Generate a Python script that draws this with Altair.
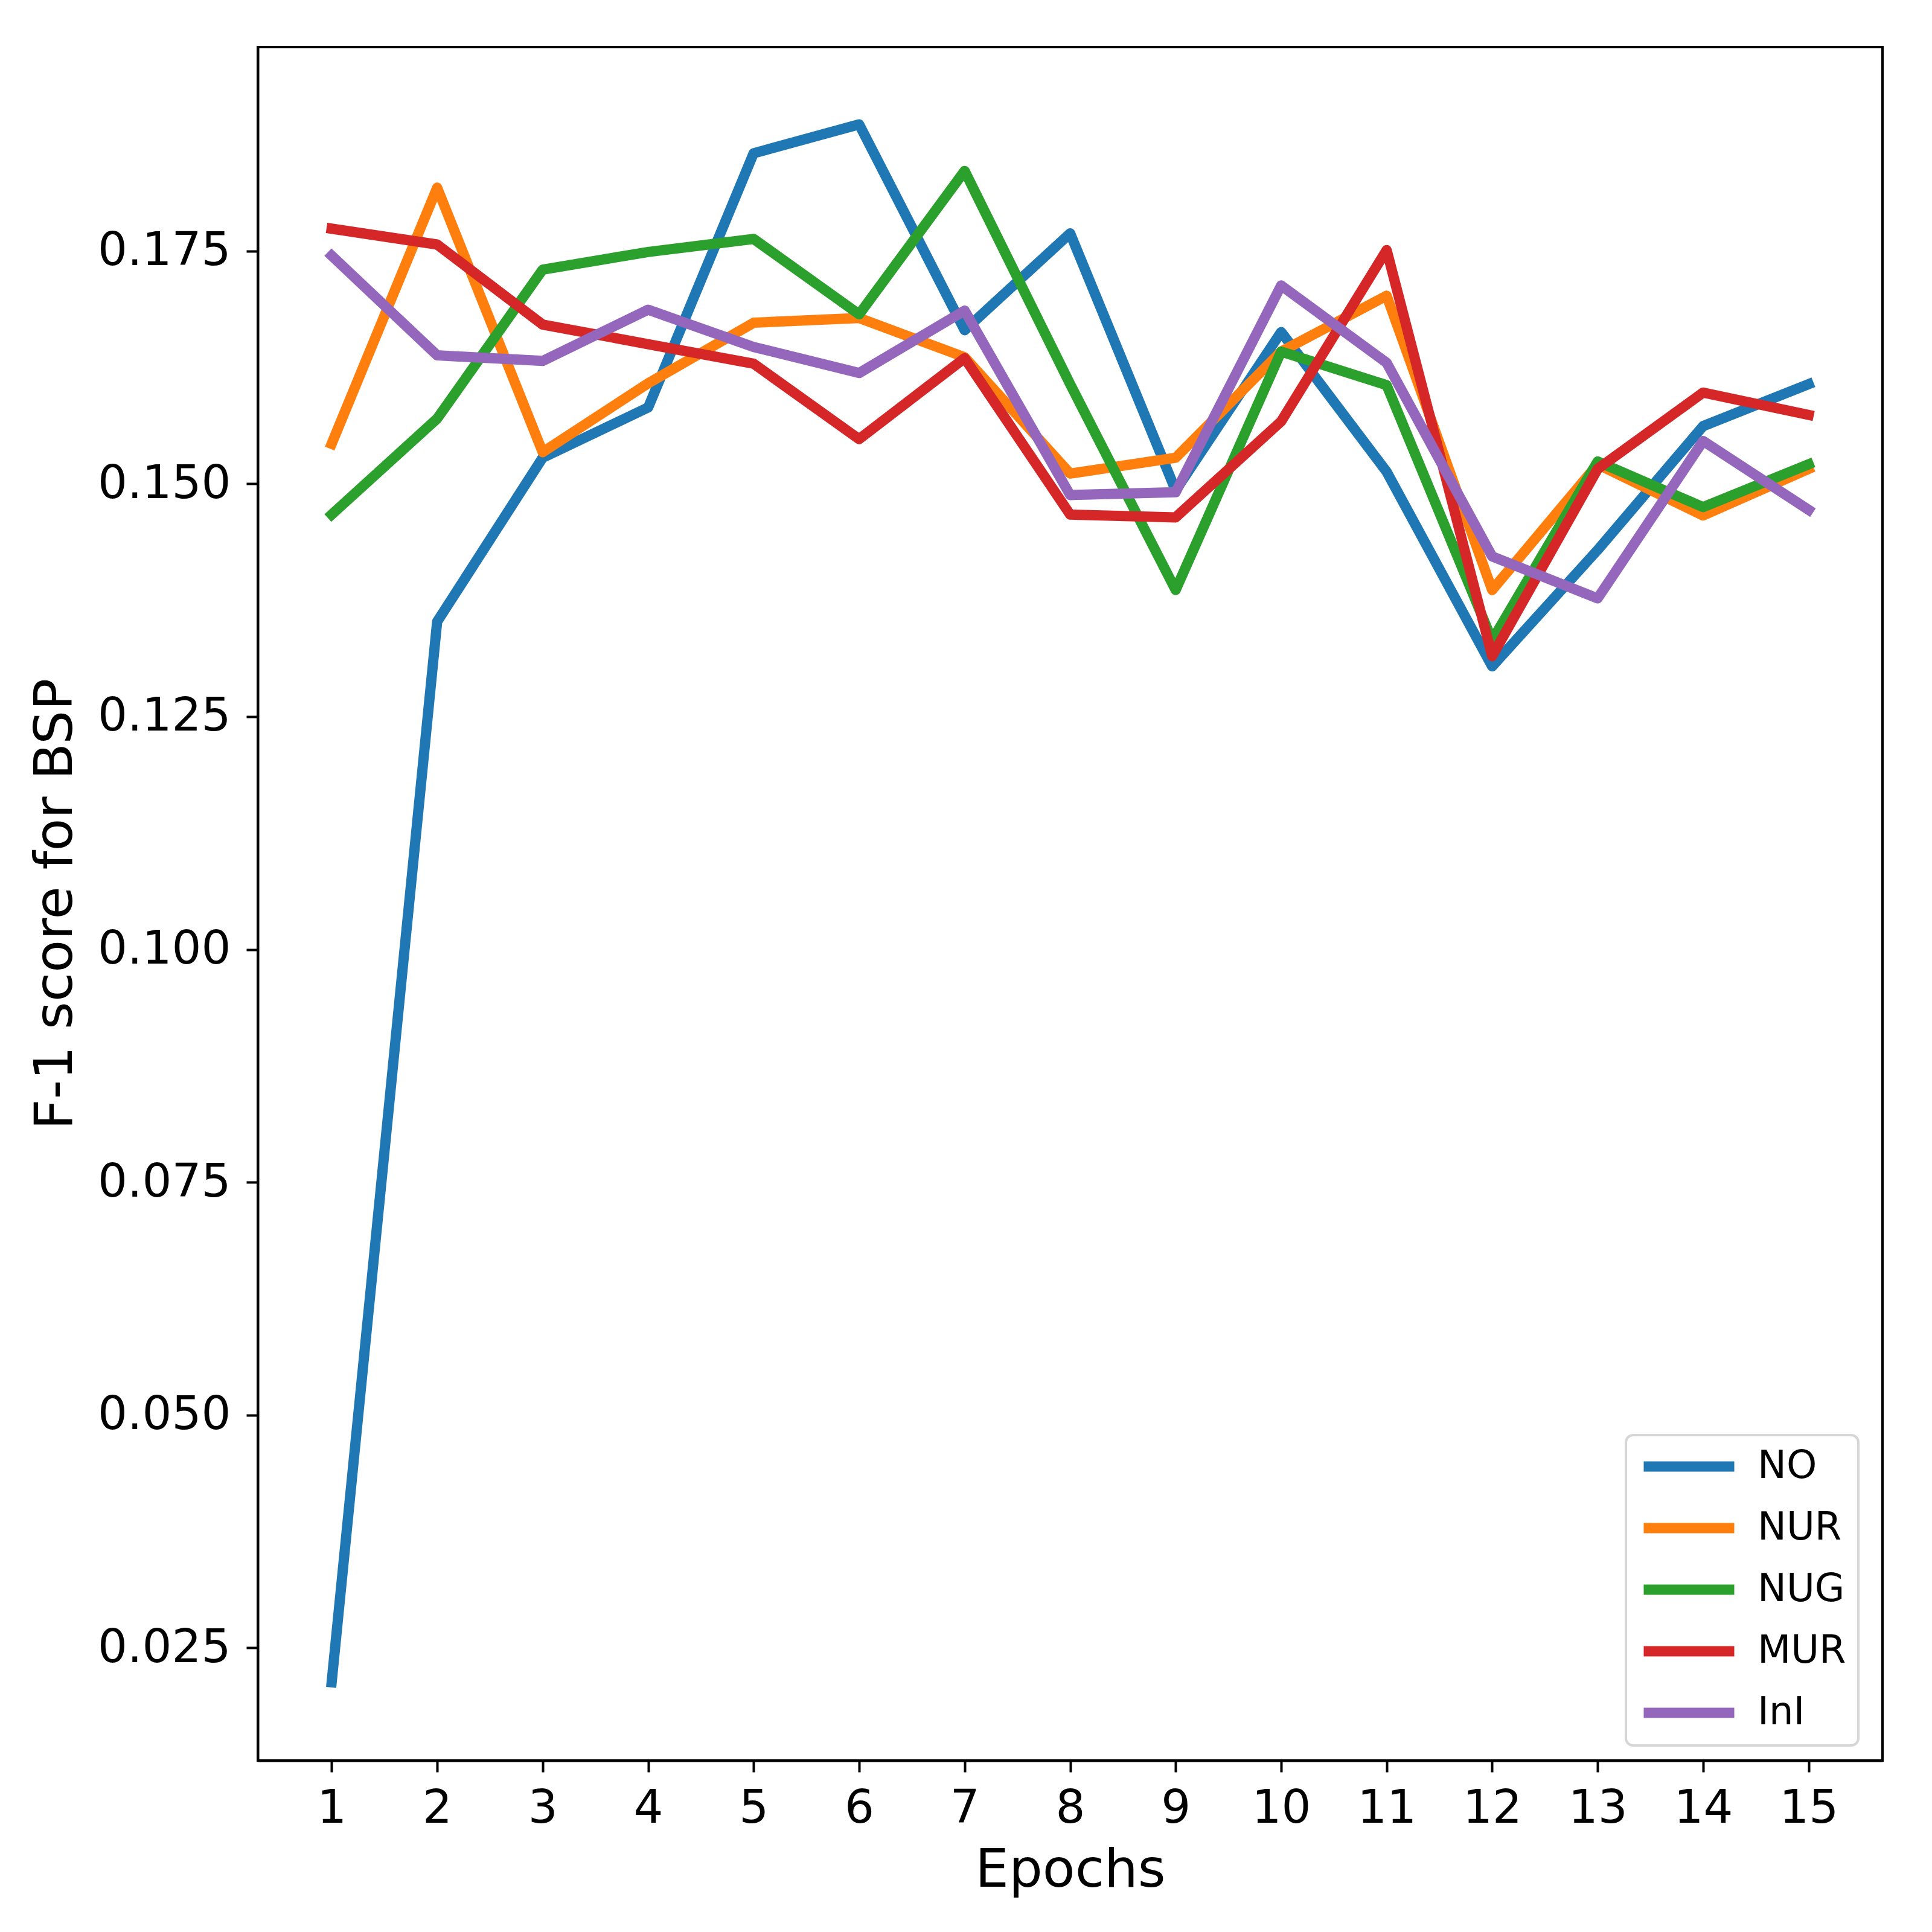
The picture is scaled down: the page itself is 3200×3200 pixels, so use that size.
import altair as alt
import pandas as pd

epochs = list(range(1, 16))
series_names = ["NO", "NUR", "NUG", "MUR", "InI"]
colors = ["#1f77b4", "#ff7f0e", "#2ca02c", "#d62728", "#9467bd"]

no_vals = [0.0213, 0.1352, 0.1528, 0.1582, 0.1855, 0.1886, 0.1665, 0.1769, 0.1493, 0.1663, 0.1513, 0.1304, 0.1429, 0.1562, 0.1607]
nur_vals = [0.1543, 0.1818, 0.1534, 0.1608, 0.1673, 0.1678, 0.1636, 0.1511, 0.1528, 0.1642, 0.1702, 0.1386, 0.1521, 0.1466, 0.1516]
nug_vals = [0.1467, 0.1570, 0.1730, 0.1749, 0.1763, 0.1682, 0.1836, 0.1607, 0.1386, 0.1642, 0.1606, 0.1332, 0.1524, 0.1475, 0.1521]
mur_vals = [0.1774, 0.1757, 0.1671, 0.1650, 0.1629, 0.1548, 0.1635, 0.1467, 0.1464, 0.1567, 0.1751, 0.1315, 0.1516, 0.1598, 0.1574]
ini_vals = [0.1745, 0.1638, 0.1632, 0.1687, 0.1647, 0.1619, 0.1686, 0.1488, 0.1491, 0.1713, 0.1630, 0.1422, 0.1377, 0.1546, 0.1472]

y_ticks = [0.025, 0.050, 0.075, 0.100, 0.125, 0.150, 0.175]

rows = []
for name, vals in zip(series_names, [no_vals, nur_vals, nug_vals, mur_vals, ini_vals]):
    for e, v in zip(epochs, vals):
        rows.append({"Epoch": e, "F1": v, "Series": name})
df = pd.DataFrame(rows)

FONT = "DejaVu Sans"

chart = alt.Chart(df).mark_line(
    strokeWidth=17, strokeCap="square", strokeJoin="round"
).encode(
    x=alt.X("Epoch:Q",
            scale=alt.Scale(domain=[0.3, 15.7], nice=False, zero=False),
            axis=alt.Axis(values=epochs, title="Epochs", labelAngle=0,
                          format="d", titleY=182, titleBaseline="middle")),
    y=alt.Y("F1:Q",
            scale=alt.Scale(domain=[0.0129, 0.1969], nice=False, zero=False),
            axis=alt.Axis(values=y_ticks, format=".3f", title="F-1 score for BSP",
                          titleX=-335, titleBaseline="middle")),
    color=alt.Color("Series:N",
                    scale=alt.Scale(domain=series_names, range=colors),
                    sort=series_names,
                    legend=alt.Legend(
                        title=None, orient="none", legendX=2266, legendY=2299,
                        symbolType="M-1.5,0H8.5", symbolSize=900,
                        symbolStrokeWidth=17, labelFontSize=64, labelFont=FONT,
                        labelColor="black", labelOffset=134, rowPadding=34,
                        padding=20, fillColor="white", strokeColor="#d6d6d6",
                        cornerRadius=12,
                    )),
    detail="Series:N",
).properties(
    width=2691,
    height=2838,
    autosize=alt.AutoSizeParams(type="none"),
    padding={"left": 419, "top": 70, "right": 74, "bottom": 276},
).configure_view(
    stroke="black", strokeWidth=4
).configure_axis(
    grid=False, domainColor="black", domainWidth=4, tickColor="black",
    tickWidth=4, tickSize=19, labelFont=FONT, labelFontSize=77, labelColor="black",
    titleFont=FONT, titleFontSize=88, titleFontWeight="normal", titleColor="black",
    labelPadding=22, labelLimit=0
).configure_axisY(
    labelPadding=26
).configure_legend(
    strokeWidth=4
)

chart.save("out.html", embed_options={"renderer": "svg", "actions": False})
